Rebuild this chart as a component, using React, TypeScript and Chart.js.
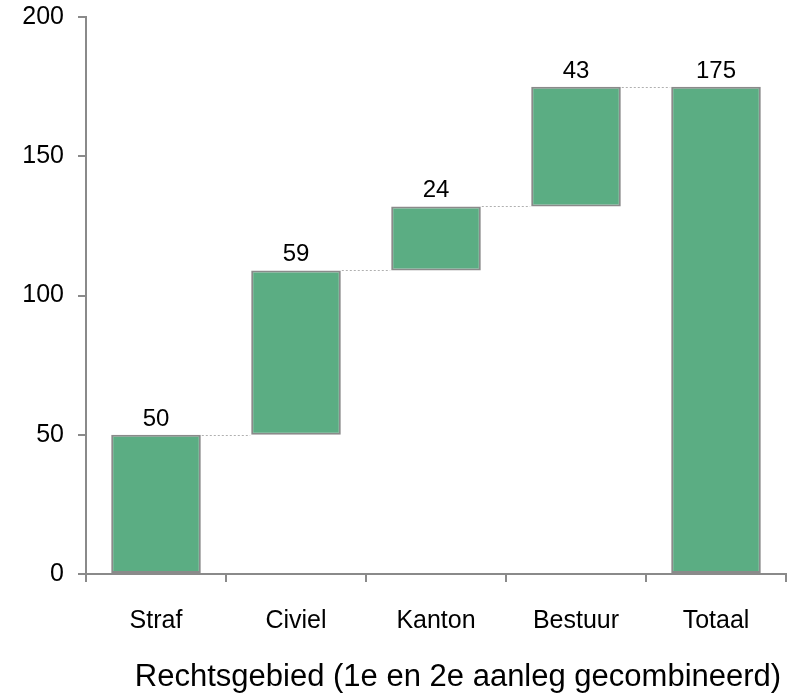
import React, { useEffect, useRef } from "react";
import { Chart, registerables } from "chart.js";

Chart.register(...registerables);

const categories = ["Straf", "Civiel", "Kanton", "Bestuur", "Totaal"];
const barStart = [0, 50, 109, 132, 0];
const barEnd = [50, 109, 132, 175, 175];
const valueLabels = ["50", "59", "24", "43", "175"];
const yTicks = [0, 50, 100, 150, 200];
const axisTitle = "Rechtsgebied (1e en 2e aanleg gecombineerd)";

const FONT = "'Liberation Sans', Arial, sans-serif";
const AXIS = "#8a8a8a";

export default function App() {
  const ref = useRef<HTMLCanvasElement | null>(null);

  useEffect(() => {
    if (!ref.current) return;
    const overlay = {
      id: "overlay",
      afterDatasetsDraw(chart: any) {
        const ctx = chart.ctx;
        const meta = chart.getDatasetMeta(0);
        const y = chart.scales.y;
        ctx.save();
        // connectors
        ctx.strokeStyle = "#b0b0b0";
        ctx.lineWidth = 1;
        ctx.setLineDash([2, 2]);
        for (let i = 0; i < categories.length - 1; i++) {
          const a = meta.data[i] as any;
          const b = meta.data[i + 1] as any;
          const yy = Math.round(y.getPixelForValue(barEnd[i])) + 0.5;
          ctx.beginPath();
          ctx.moveTo(a.x + a.width / 2 + 1, yy);
          ctx.lineTo(b.x - b.width / 2 - 1, yy);
          ctx.stroke();
        }
        ctx.setLineDash([]);
        // value labels
        ctx.fillStyle = "#000";
        ctx.font = `24px ${FONT}`;
        ctx.textAlign = "center";
        ctx.textBaseline = "alphabetic";
        for (let i = 0; i < categories.length; i++) {
          const el = meta.data[i] as any;
          const top = y.getPixelForValue(Math.max(barStart[i], barEnd[i]));
          ctx.fillText(valueLabels[i], el.x, top - 9);
        }
        // axis title
        ctx.font = `31px ${FONT}`;
        ctx.fillText(axisTitle, 458, 686);
        ctx.restore();
      },
    };

    const chart = new Chart(ref.current, {
      type: "bar",
      data: {
        labels: categories,
        datasets: [
          {
            data: categories.map((_, i) => [barStart[i], barEnd[i]]) as any,
            backgroundColor: "#5bad83",
            borderColor: "#8a8a8a",
            borderWidth: 2,
            borderSkipped: false,
            categoryPercentage: 1,
            barPercentage: 0.64,
          },
        ],
      },
      options: {
        animation: false,
        responsive: false,
        maintainAspectRatio: false,
        layout: { padding: { top: 17, right: 22, left: 0, bottom: 0 } },
        plugins: {
          legend: { display: false },
          tooltip: { enabled: false },
          title: { display: false },
        },
        scales: {
          x: {
            offset: true,
            grid: {
              offset: true,
              drawOnChartArea: false,
              drawTicks: true,
              tickLength: 8,
              color: AXIS,
              lineWidth: 2,
            },
            border: { color: AXIS, width: 2 },
            ticks: {
              color: "#000",
              font: { size: 25, family: FONT },
              padding: 24,
              maxRotation: 0,
            },
            afterFit(scale: any) {
              scale.height = 119;
              scale.paddingLeft = 0;
              scale.paddingRight = 0;
            },
          },
          y: {
            min: 0,
            max: 200,
            afterBuildTicks(scale: any) {
              scale.ticks = yTicks.map((v) => ({ value: v }));
            },
            grid: {
              drawOnChartArea: false,
              drawTicks: true,
              tickLength: 8,
              color: AXIS,
              lineWidth: 2,
            },
            border: { color: AXIS, width: 2 },
            ticks: {
              color: "#000",
              font: { size: 25, family: FONT },
              padding: 14,
            },
            afterFit(scale: any) {
              scale.width = 86;
              scale.paddingTop = 0;
              scale.paddingBottom = 0;
            },
          },
        },
      },
      plugins: [overlay],
    });
    return () => chart.destroy();
  }, []);

  return (
    <div style={{ position: "fixed", left: 0, top: 0, width: 808, height: 693, background: "#fff" }}>
      <canvas ref={ref} width={808} height={693} style={{ width: 808, height: 693 }} />
    </div>
  );
}
